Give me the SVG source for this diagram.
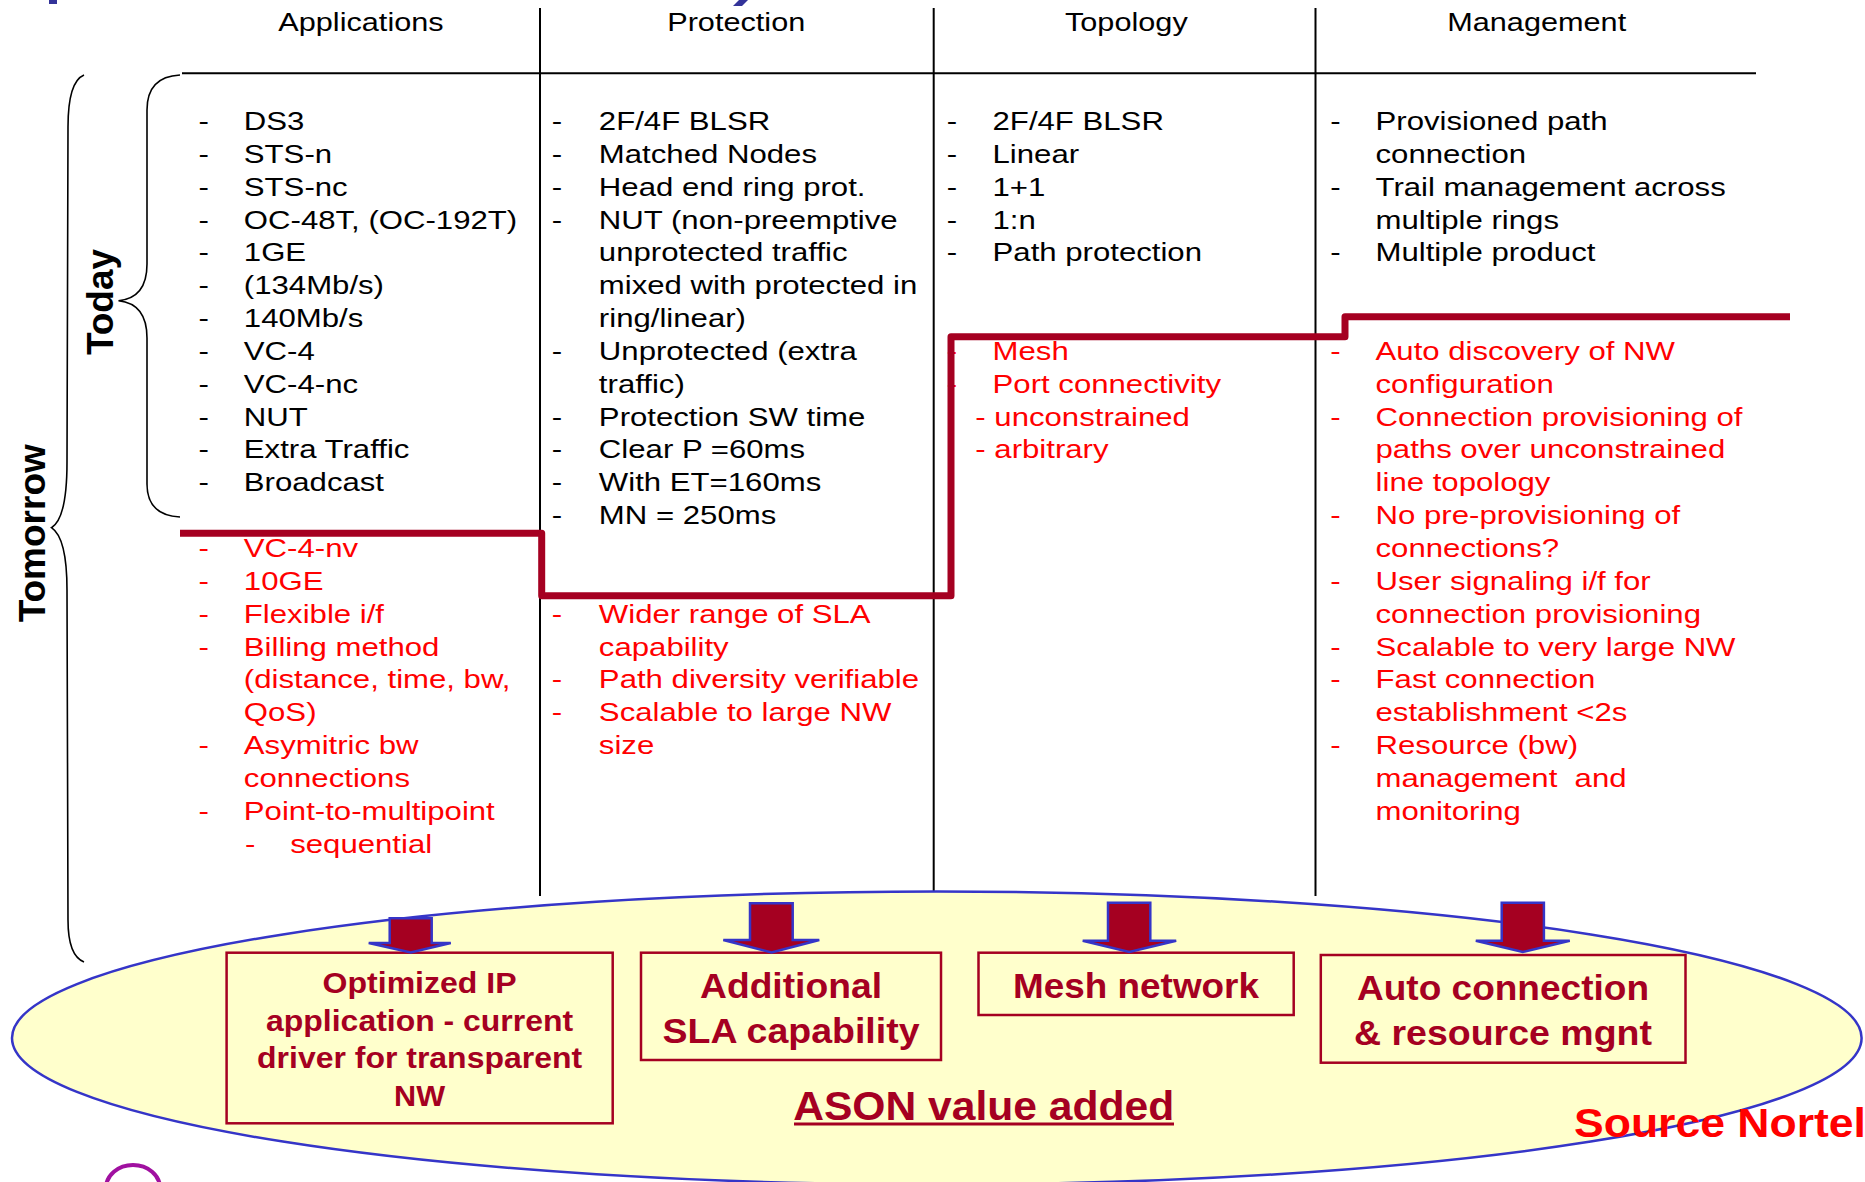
<svg xmlns="http://www.w3.org/2000/svg" width="1865" height="1182" viewBox="0 0 1865 1182">
  <style>
    .t { font-family: "Liberation Sans", Arial, sans-serif; font-size: 26.2px; }
    .k { fill: #000000; }
    .r { fill: #ff0000; }
    .hd { text-anchor: middle; font-size: 25.8px; }
    .side { font-family: "Liberation Sans", Arial, sans-serif; font-size: 37px; font-weight: bold; fill: #000000; text-anchor: middle; }
    .bx { font-family: "Liberation Sans", Arial, sans-serif; font-weight: bold; fill: #a50021; text-anchor: middle; }
    .grid { stroke: #000000; stroke-width: 2; fill: none; }
    .brace { fill: none; stroke: #000000; stroke-width: 1.6; }
    .step { fill: none; stroke: #a50021; stroke-width: 7; stroke-linejoin: round; }
    .arrow { fill: #a50021; stroke: #3535c8; stroke-width: 2.5; stroke-linejoin: miter; }
    .box { fill: none; stroke: #a50021; stroke-width: 2.5; }
  </style>

  <rect width="1865" height="1182" fill="#ffffff"/>

  <!-- fragments of the page title above the table -->
  <g id="title-fragments" fill="#333399">
    <rect x="49" y="0" width="8" height="4"/>
    <polygon points="739,0 748,0 742,6 733,6"/>
  </g>

  <!-- table rules -->
  <g id="grid" class="grid">
    <line x1="182" y1="73.3" x2="1756" y2="73.3"/>
    <line x1="540" y1="8" x2="540" y2="896"/>
    <line x1="933.7" y1="8" x2="933.7" y2="896"/>
    <line x1="1315.5" y1="8" x2="1315.5" y2="896"/>
  </g>

  <!-- time-frame braces -->
  <g id="today" >
    <path class="brace" d="M180,75 C160,76 147,86 147,110 L147,264 C147,288 136,299 118.5,300.7 C136,302.5 147,314 147,338 L147,484 C147,506 160,516 180,517"/>
    <text class="side" transform="translate(113.3,302) rotate(-90)">Today</text>
  </g>
  <g id="tomorrow">
    <path class="brace" d="M84,75 C72,80 68,100 68,127 L67,462 C67,502 61,522 51.5,527.7 C61,534 67,552 67,590 L68,920 C68,945 74,958 84,962"/>
    <text class="side" transform="translate(45,533.3) rotate(-90)">Tomorrow</text>
  </g>

  <!-- column: Applications -->
  <g id="col-applications" class="t" transform="scale(1.18941,1)">
    <text class="hd k" x="303.5" y="31">Applications</text>
    <g class="k">
      <text y="130"><tspan x="167">-</tspan><tspan x="205">DS3</tspan></text>
      <text y="162.9"><tspan x="167">-</tspan><tspan x="205">STS-n</tspan></text>
      <text y="195.7"><tspan x="167">-</tspan><tspan x="205">STS-nc</tspan></text>
      <text y="228.6"><tspan x="167">-</tspan><tspan x="205">OC-48T, (OC-192T)</tspan></text>
      <text y="261.4"><tspan x="167">-</tspan><tspan x="205">1GE</tspan></text>
      <text y="294.3"><tspan x="167">-</tspan><tspan x="205">(134Mb/s)</tspan></text>
      <text y="327.1"><tspan x="167">-</tspan><tspan x="205">140Mb/s</tspan></text>
      <text y="360"><tspan x="167">-</tspan><tspan x="205">VC-4</tspan></text>
      <text y="392.8"><tspan x="167">-</tspan><tspan x="205">VC-4-nc</tspan></text>
      <text y="425.7"><tspan x="167">-</tspan><tspan x="205">NUT</tspan></text>
      <text y="458.5"><tspan x="167">-</tspan><tspan x="205">Extra Traffic</tspan></text>
      <text y="491.4"><tspan x="167">-</tspan><tspan x="205">Broadcast</tspan></text>
    </g>
    <g class="r">
      <text y="557.1"><tspan x="167">-</tspan><tspan x="205">VC-4-nv</tspan></text>
      <text y="589.9"><tspan x="167">-</tspan><tspan x="205">10GE</tspan></text>
      <text y="622.8"><tspan x="167">-</tspan><tspan x="205">Flexible i/f</tspan></text>
      <text y="655.6"><tspan x="167">-</tspan><tspan x="205">Billing method</tspan></text>
      <text x="205" y="688.5">(distance, time, bw,</text>
      <text x="205" y="721.3">QoS)</text>
      <text y="754.2"><tspan x="167">-</tspan><tspan x="205">Asymitric bw</tspan></text>
      <text x="205" y="787">connections</text>
      <text y="819.9"><tspan x="167">-</tspan><tspan x="205">Point-to-multipoint</tspan></text>
      <text y="852.7"><tspan x="206">-</tspan><tspan x="244">sequential</tspan></text>
    </g>
  </g>

  <!-- column: Protection -->
  <g id="col-protection" class="t" transform="scale(1.18941,1)">
    <text class="hd k" x="619" y="31">Protection</text>
    <g class="k">
      <text y="130"><tspan x="464">-</tspan><tspan x="503.5">2F/4F BLSR</tspan></text>
      <text y="162.9"><tspan x="464">-</tspan><tspan x="503.5">Matched Nodes</tspan></text>
      <text y="195.7"><tspan x="464">-</tspan><tspan x="503.5">Head end ring prot.</tspan></text>
      <text y="228.6"><tspan x="464">-</tspan><tspan x="503.5">NUT (non-preemptive</tspan></text>
      <text x="503.5" y="261.4">unprotected traffic</text>
      <text x="503.5" y="294.3">mixed with protected in</text>
      <text x="503.5" y="327.1">ring/linear)</text>
      <text y="360"><tspan x="464">-</tspan><tspan x="503.5">Unprotected (extra</tspan></text>
      <text x="503.5" y="392.8">traffic)</text>
      <text y="425.7"><tspan x="464">-</tspan><tspan x="503.5">Protection SW time</tspan></text>
      <text y="458.5"><tspan x="464">-</tspan><tspan x="503.5">Clear P =60ms</tspan></text>
      <text y="491.4"><tspan x="464">-</tspan><tspan x="503.5">With ET=160ms</tspan></text>
      <text y="524.2"><tspan x="464">-</tspan><tspan x="503.5">MN = 250ms</tspan></text>
    </g>
    <g class="r">
      <text y="622.8"><tspan x="464">-</tspan><tspan x="503.5">Wider range of SLA</tspan></text>
      <text x="503.5" y="655.6">capability</text>
      <text y="688.5"><tspan x="464">-</tspan><tspan x="503.5">Path diversity verifiable</tspan></text>
      <text y="721.3"><tspan x="464">-</tspan><tspan x="503.5">Scalable to large NW</tspan></text>
      <text x="503.5" y="754.2">size</text>
    </g>
  </g>

  <!-- column: Topology -->
  <g id="col-topology" class="t" transform="scale(1.18941,1)">
    <text class="hd k" x="947" y="31">Topology</text>
    <g class="k">
      <text y="130"><tspan x="796">-</tspan><tspan x="834.5">2F/4F BLSR</tspan></text>
      <text y="162.9"><tspan x="796">-</tspan><tspan x="834.5">Linear</tspan></text>
      <text y="195.7"><tspan x="796">-</tspan><tspan x="834.5">1+1</tspan></text>
      <text y="228.6"><tspan x="796">-</tspan><tspan x="834.5">1:n</tspan></text>
      <text y="261.4"><tspan x="796">-</tspan><tspan x="834.5">Path protection</tspan></text>
    </g>
    <g class="r">
      <text y="360"><tspan x="796">-</tspan><tspan x="834.5">Mesh</tspan></text>
      <text y="392.8"><tspan x="796">-</tspan><tspan x="834.5">Port connectivity</tspan></text>
      <text x="820" y="425.7">- unconstrained</text>
      <text x="820" y="458.5">- arbitrary</text>
    </g>
  </g>

  <!-- column: Management -->
  <g id="col-management" class="t" transform="scale(1.18941,1)">
    <text class="hd k" x="1292" y="31.5">Management</text>
    <g class="k">
      <text y="130"><tspan x="1118.5">-</tspan><tspan x="1156.5">Provisioned path</tspan></text>
      <text x="1156.5" y="162.9">connection</text>
      <text y="195.7"><tspan x="1118.5">-</tspan><tspan x="1156.5">Trail management across</tspan></text>
      <text x="1156.5" y="228.6">multiple rings</text>
      <text y="261.4"><tspan x="1118.5">-</tspan><tspan x="1156.5">Multiple product</tspan></text>
    </g>
    <g class="r">
      <text y="360"><tspan x="1118.5">-</tspan><tspan x="1156.5">Auto discovery of NW</tspan></text>
      <text x="1156.5" y="392.8">configuration</text>
      <text y="425.7"><tspan x="1118.5">-</tspan><tspan x="1156.5">Connection provisioning of</tspan></text>
      <text x="1156.5" y="458.5">paths over unconstrained</text>
      <text x="1156.5" y="491.4">line topology</text>
      <text y="524.2"><tspan x="1118.5">-</tspan><tspan x="1156.5">No pre-provisioning of</tspan></text>
      <text x="1156.5" y="557.1">connections?</text>
      <text y="589.9"><tspan x="1118.5">-</tspan><tspan x="1156.5">User signaling i/f for</tspan></text>
      <text x="1156.5" y="622.8">connection provisioning</text>
      <text y="655.6"><tspan x="1118.5">-</tspan><tspan x="1156.5">Scalable to very large NW</tspan></text>
      <text y="688.5"><tspan x="1118.5">-</tspan><tspan x="1156.5">Fast connection</tspan></text>
      <text x="1156.5" y="721.3">establishment &lt;2s</text>
      <text y="754.2"><tspan x="1118.5">-</tspan><tspan x="1156.5">Resource (bw)</tspan></text>
      <text x="1156.5" y="787">management&#160; and</text>
      <text x="1156.5" y="819.9">monitoring</text>
    </g>
  </g>

  <!-- today / tomorrow boundary -->
  <g id="boundary">
    <path class="step" d="M180,533.3 H541.7 V595.7 H951 V336.7 H1345 V316.7 H1790"/>
  </g>

  <!-- ASON value-added area -->
  <g id="ason-area">
    <ellipse cx="936.8" cy="1038" rx="924.8" ry="146.5" fill="#ffffcc" stroke="#3535c8" stroke-width="2.5"/>
    <text class="bx" x="983.7" y="1120" font-size="41" textLength="381" lengthAdjust="spacingAndGlyphs">ASON value added</text>
    <rect x="794" y="1122.5" width="380" height="3" fill="#a50021"/>
  </g>

  <!-- outcome boxes -->
  <g id="box-ip">
    <rect class="box" x="226.6" y="952.7" width="386.1" height="170.6"/>
    <text class="bx" font-size="29" x="419.6" y="993" textLength="194" lengthAdjust="spacingAndGlyphs">Optimized IP</text>
    <text class="bx" font-size="29" x="419.6" y="1030.5" textLength="307" lengthAdjust="spacingAndGlyphs">application - current</text>
    <text class="bx" font-size="29" x="419.6" y="1068" textLength="325" lengthAdjust="spacingAndGlyphs">driver for transparent</text>
    <text class="bx" font-size="29" x="419.6" y="1105.5" textLength="51" lengthAdjust="spacingAndGlyphs">NW</text>
  </g>
  <g id="box-sla">
    <rect class="box" x="641" y="952.7" width="300" height="107.3"/>
    <text class="bx" font-size="35" x="791" y="998.3" textLength="182" lengthAdjust="spacingAndGlyphs">Additional</text>
    <text class="bx" font-size="35" x="791" y="1043.3" textLength="257" lengthAdjust="spacingAndGlyphs">SLA capability</text>
  </g>
  <g id="box-mesh">
    <rect class="box" x="978.5" y="952.7" width="315.2" height="62.3"/>
    <text class="bx" font-size="35" x="1136" y="998.3" textLength="246" lengthAdjust="spacingAndGlyphs">Mesh network</text>
  </g>
  <g id="box-auto">
    <rect class="box" x="1320.8" y="955" width="364.7" height="107.7"/>
    <text class="bx" font-size="35" x="1503" y="1000" textLength="292" lengthAdjust="spacingAndGlyphs">Auto connection</text>
    <text class="bx" font-size="35" x="1503" y="1045" textLength="298" lengthAdjust="spacingAndGlyphs">&amp; resource mgnt</text>
  </g>

  <!-- column-to-outcome arrows -->
  <g id="connectors">
    <polygon class="arrow" points="389.7,918.3 431.7,918.3 431.7,943 450.8,943 410.7,952.5 368.7,943 389.7,943"/>
    <polygon class="arrow" points="750,903.3 792.7,903.3 792.7,940 819.3,940 771.5,952.5 723.3,940 750,940"/>
    <polygon class="arrow" points="1108,902.7 1150.3,902.7 1150.3,940.7 1176.2,940.7 1129.3,952 1082.7,940.7 1108,940.7"/>
    <polygon class="arrow" points="1501.7,902.7 1543.9,902.7 1543.9,940.7 1569.8,940.7 1522.8,952 1475.8,940.7 1501.7,940.7"/>
  </g>

  <text id="source" x="1574" y="1136.7" font-family="Liberation Sans, Arial, sans-serif" font-weight="bold" font-size="40" fill="#ff0000" textLength="292" lengthAdjust="spacingAndGlyphs">Source Nortel</text>

  <!-- logo edge at the lower left -->
  <ellipse cx="133" cy="1188" rx="27" ry="23" fill="none" stroke="#a010a0" stroke-width="4"/>
</svg>
